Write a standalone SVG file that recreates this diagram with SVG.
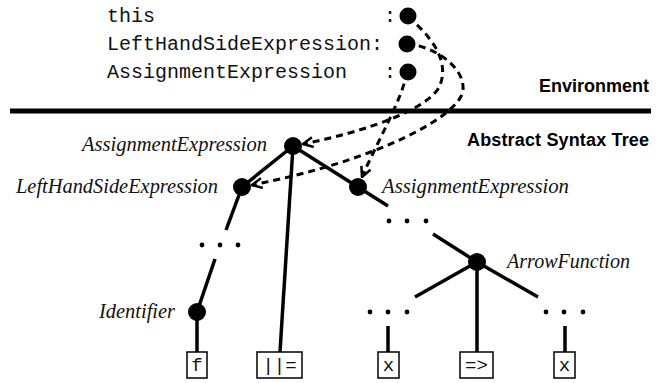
<svg xmlns="http://www.w3.org/2000/svg" width="660" height="383" viewBox="0 0 660 383">
<style>
.mono{font-family:"Liberation Mono","DejaVu Sans Mono",monospace;font-size:20px;fill:#111}
.lab{font-family:"Liberation Serif","DejaVu Serif",serif;font-style:italic;font-size:20.5px;fill:#111}
.head{font-family:"Liberation Sans",Arial,sans-serif;font-weight:bold;font-size:18px;fill:#000}
.edge{stroke:#000;stroke-width:3.5;fill:none;stroke-linecap:butt}
.dash{stroke:#000;stroke-width:3;fill:none;stroke-dasharray:7 5}
.dot{fill:#000}
.ell{fill:#000}
.box{fill:#fff;stroke:#000;stroke-width:1.5}
.tok{font-family:"Liberation Mono","DejaVu Sans Mono",monospace;font-size:19px;fill:#111;text-anchor:middle}
</style>
<defs>
<marker id="arr" viewBox="0 0 12 12" refX="11" refY="6" markerWidth="12" markerHeight="12" markerUnits="userSpaceOnUse" orient="auto">
<path d="M1,1 L11,6 L1,11" fill="none" stroke="#000" stroke-width="2.5"/>
</marker>
</defs>

<g id="environment">
<text class="mono" x="107" y="22">this</text>
<text class="mono" x="390" y="22" text-anchor="middle">:</text>
<text class="mono" x="107" y="50">LeftHandSideExpression:</text>
<text class="mono" x="107" y="78">AssignmentExpression</text>
<text class="mono" x="390" y="78" text-anchor="middle">:</text>
<circle class="dot" cx="408" cy="16" r="8.5"/>
<circle class="dot" cx="407" cy="44" r="8.5"/>
<circle class="dot" cx="408" cy="72" r="8.5"/>
<text class="head" x="649" y="92" text-anchor="end">Environment</text>
</g>

<g id="separator">
<line x1="10" y1="111" x2="651" y2="111" stroke="#000" stroke-width="5"/>
<text class="head" x="649" y="146" text-anchor="end" textLength="182">Abstract Syntax Tree</text>
</g>

<g id="edges">
<line class="edge" x1="293" y1="146" x2="242" y2="187"/>
<line class="edge" x1="293" y1="146" x2="280" y2="352"/>
<line class="edge" x1="293" y1="146" x2="388" y2="206"/>
<line class="edge" x1="242" y1="187" x2="226" y2="230"/>
<line class="edge" x1="215" y1="259" x2="197" y2="312"/>
<line class="edge" x1="197" y1="312" x2="197" y2="352"/>
<line class="edge" x1="433" y1="234" x2="477" y2="262"/>
<line class="edge" x1="477" y1="262" x2="415" y2="297"/>
<line class="edge" x1="477" y1="262" x2="477" y2="352"/>
<line class="edge" x1="477" y1="262" x2="538" y2="297"/>
<line class="edge" x1="388" y1="326" x2="388" y2="352"/>
<line class="edge" x1="565" y1="326" x2="565" y2="352"/>
</g>

<g id="connectors">
<path class="dash" d="M408,17 C430,35 450,60 440,85 C432,108 365,132 303,144" marker-end="url(#arr)"/>
<path class="dash" d="M407,44 C430,45 465,65 463,90 C461,115 380,160 252,185" marker-end="url(#arr)"/>
<path class="dash" d="M407,72 C402,100 378,140 362,177" marker-end="url(#arr)"/>
</g>

<g id="n-root">
<circle class="dot" cx="293" cy="146" r="9"/>
<text class="lab" x="82" y="151" textLength="185" lengthAdjust="spacingAndGlyphs">AssignmentExpression</text>
</g>
<g id="n-lhs">
<circle class="dot" cx="242" cy="187" r="9"/>
<text class="lab" x="16" y="193" textLength="202" lengthAdjust="spacingAndGlyphs">LeftHandSideExpression</text>
</g>
<g id="n-assign">
<circle class="dot" cx="358" cy="187" r="9"/>
<text class="lab" x="382" y="193" textLength="187" lengthAdjust="spacingAndGlyphs">AssignmentExpression</text>
</g>
<g id="n-identifier">
<circle class="dot" cx="197" cy="312" r="9"/>
<text class="lab" x="99" y="318" textLength="76" lengthAdjust="spacingAndGlyphs">Identifier</text>
</g>
<g id="n-arrow">
<circle class="dot" cx="477" cy="262" r="9"/>
<text class="lab" x="507" y="268" textLength="123" lengthAdjust="spacingAndGlyphs">ArrowFunction</text>
</g>

<g id="ellipses">
<circle class="ell" cx="202" cy="245" r="2.4"/><circle class="ell" cx="220" cy="245" r="2.4"/><circle class="ell" cx="238" cy="245" r="2.4"/>
<circle class="ell" cx="389" cy="221" r="2.4"/><circle class="ell" cx="407" cy="221" r="2.4"/><circle class="ell" cx="426" cy="221" r="2.4"/>
<circle class="ell" cx="370" cy="312" r="2.4"/><circle class="ell" cx="388" cy="312" r="2.4"/><circle class="ell" cx="407" cy="312" r="2.4"/>
<circle class="ell" cx="546" cy="312" r="2.4"/><circle class="ell" cx="564" cy="312" r="2.4"/><circle class="ell" cx="583" cy="312" r="2.4"/>
</g>

<g id="t-f"><rect class="box" x="187" y="352" width="20" height="26"/><text class="tok" x="197" y="371">f</text></g>
<g id="t-oreq"><rect class="box" x="257" y="352" width="45" height="26"/><text class="tok" x="279.5" y="371">||=</text></g>
<g id="t-x1"><rect class="box" x="378" y="352" width="21" height="26"/><text class="tok" x="388.5" y="371">x</text></g>
<g id="t-arrow"><rect class="box" x="460" y="352" width="33" height="26"/><text class="tok" x="476.5" y="371">=&gt;</text></g>
<g id="t-x2"><rect class="box" x="554" y="352" width="21" height="26"/><text class="tok" x="564.5" y="371">x</text></g>
</svg>
